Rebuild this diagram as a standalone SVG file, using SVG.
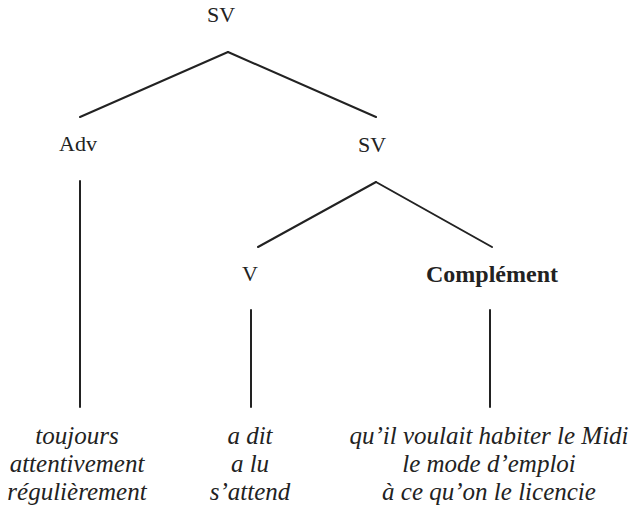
<svg xmlns="http://www.w3.org/2000/svg" width="634" height="516" viewBox="0 0 634 516">
<style>
.lab{font-family:"Liberation Serif","Times New Roman",serif;font-size:22px;fill:#222;text-anchor:middle}
.b{font-weight:bold;font-size:24px}
.it{font-family:"Liberation Serif","Times New Roman",serif;font-style:italic;font-size:25px;fill:#222;text-anchor:middle}
.edge{stroke:#222;stroke-width:2;fill:none;stroke-linecap:round}
</style>
<rect width="634" height="516" fill="#fff"/>
<g id="connectors">
<line class="edge" x1="228" y1="52" x2="80" y2="117"/>
<line class="edge" x1="228" y1="52" x2="376" y2="117"/>
<line class="edge" x1="80" y1="181" x2="80" y2="407"/>
<line class="edge" x1="376" y1="182" x2="258" y2="247"/>
<line class="edge" x1="376" y1="182" x2="492" y2="247"/>
<line class="edge" x1="251" y1="310" x2="251" y2="407"/>
<line class="edge" x1="490" y1="310" x2="490" y2="407"/>
</g>
<g id="sv-root"><text class="lab" x="221" y="22">SV</text></g>
<g id="adv"><text class="lab" x="78" y="151">Adv</text></g>
<g id="sv"><text class="lab" x="372" y="152">SV</text></g>
<g id="v"><text class="lab" x="250" y="281">V</text></g>
<g id="complement"><text class="lab b" x="492" y="282">Complément</text></g>
<g id="adv-words">
<text class="it" x="77" y="444">toujours</text>
<text class="it" x="77" y="472">attentivement</text>
<text class="it" x="77" y="500">régulièrement</text>
</g>
<g id="v-words">
<text class="it" x="250" y="444">a dit</text>
<text class="it" x="250" y="472">a lu</text>
<text class="it" x="250" y="500">s’attend</text>
</g>
<g id="complement-words">
<text class="it" x="489" y="444">qu’il voulait habiter le Midi</text>
<text class="it" x="489" y="472">le mode d’emploi</text>
<text class="it" x="489" y="500">à ce qu’on le licencie</text>
</g>
</svg>
